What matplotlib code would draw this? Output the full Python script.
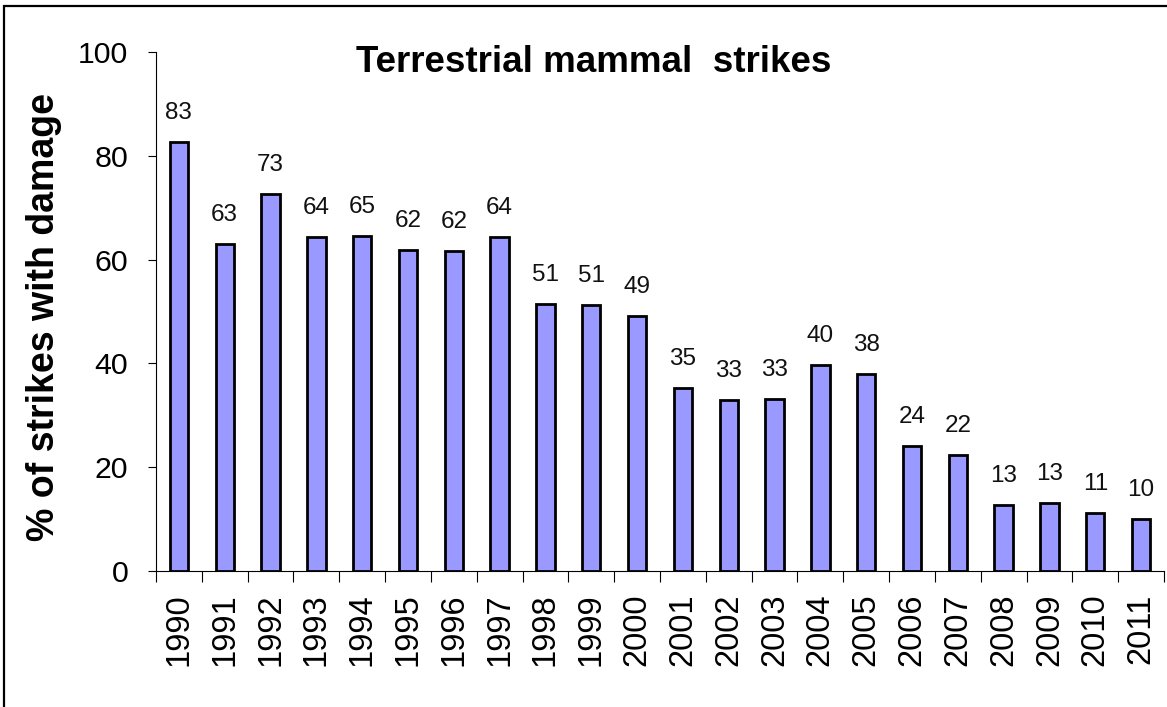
import matplotlib
matplotlib.use("Agg")
import matplotlib.pyplot as plt
from matplotlib.patches import Rectangle
import numpy as np

plt.rcParams['font.family'] = ['Liberation Sans', 'DejaVu Sans']

years = [str(y) for y in range(1990, 2012)]
values = [82.6, 63.0, 72.7, 64.3, 64.6, 61.8, 61.6, 64.3, 51.4, 51.2, 49.2,
          35.2, 32.9, 33.2, 39.6, 38.0, 24.0, 22.4, 12.7, 13.1, 11.1, 10.1]
title = "Terrestrial mammal  strikes"
ylabel = "% of strikes with damage"
yticks = [0, 20, 40, 60, 80, 100]

W, H = 1167, 707
fig = plt.figure(figsize=(W / 100, H / 100), dpi=100)
fig.patch.set_facecolor('white')

# outer frame (only top & left visible)
fig.patches.append(Rectangle((4 / W, -0.5), 1.5, 0.5 + 1 - 6 / H, transform=fig.transFigure,
                             fill=False, edgecolor='black', linewidth=1.6, zorder=0))

ax = fig.add_axes([156 / W, 1 - 571 / H, (1164 - 156) / W, (571 - 52) / H])
x = np.arange(len(years))
bars = ax.bar(x, values, width=0.4, color='#9999FF', edgecolor='black', linewidth=2.0, zorder=3)

for xi, v in zip(x, values):
    ax.annotate(f"{int(v + 0.5):d}", (xi, v), xytext=(0, 13), textcoords='offset points',
                ha='center', va='bottom', fontsize=17.5, color='#111111')

ax.set_xlim(-0.5, len(years) - 0.5)
ax.set_ylim(0, 100)
ax.set_yticks(yticks)
ax.set_yticklabels([str(t) for t in yticks], fontsize=21.8)
ax.tick_params(axis='y', direction='out', length=6, width=0.8, pad=14)

ax.set_xticks(x)
ax.set_xticklabels(years, rotation=90, fontsize=23.5)
ax.tick_params(axis='x', which='major', length=0, pad=16)
ax.set_xticks(np.arange(len(years) + 1) - 0.5, minor=True)
ax.tick_params(axis='x', which='minor', direction='out', length=8, width=0.8)

for s in ['top', 'right']:
    ax.spines[s].set_visible(False)
for s in ['left', 'bottom']:
    ax.spines[s].set_linewidth(0.8)

fig.text(594 / W, 1 - 62 / H, title, ha='center', va='center', fontsize=26.5, fontweight='bold')
fig.text(44 / W, 1 - 317 / H, ylabel, ha='center', va='center', rotation=90,
         fontsize=27, fontweight='bold')

fig.savefig("out.png", dpi=100, facecolor='white')
